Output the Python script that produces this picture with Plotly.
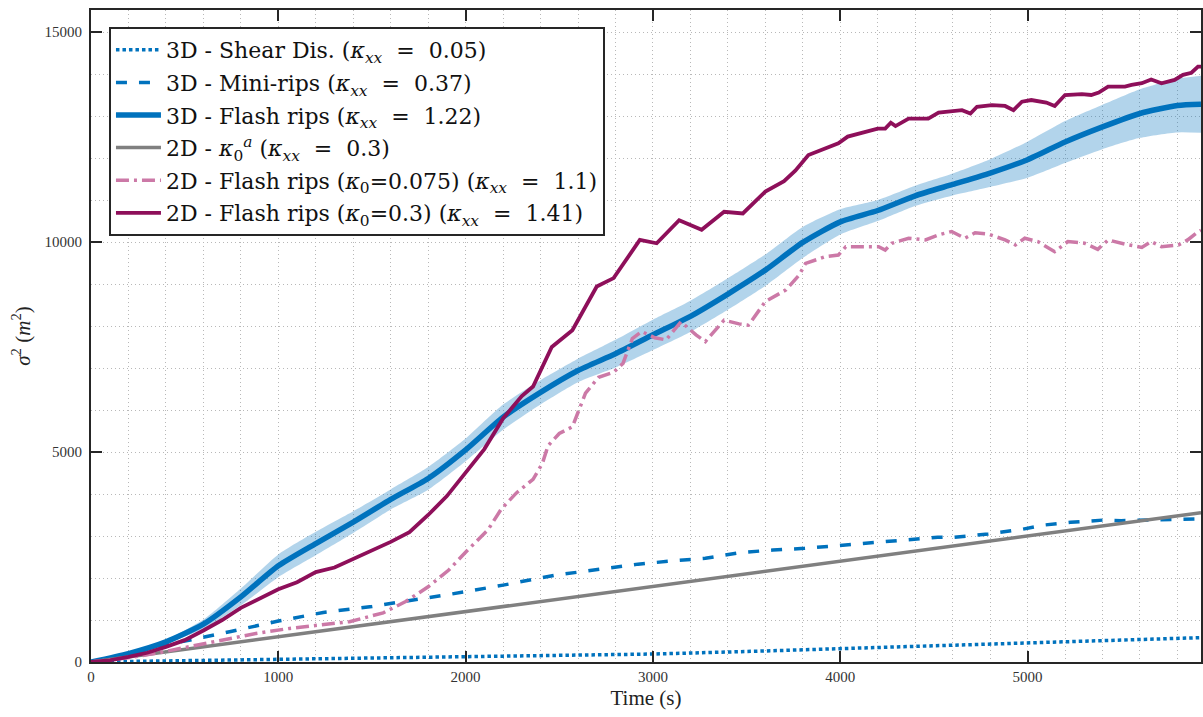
import plotly.graph_objects as go

# ---- data -------------------------------------------------------------
# 3D - Shear dispersion
t_shear = [0, 500, 1000, 1500, 2000, 2500, 3000, 3500, 4000, 4500, 5000, 5500, 5926]
v_shear = [0, 30, 65, 90, 115, 150, 190, 250, 315, 380, 445, 510, 580]

# 3D - Mini-rips
t_mini = [0, 200, 400, 530, 740, 1000, 1240, 1500, 1660, 1900, 2200, 2480, 2620,
          2920, 3100, 3280, 3460, 3640, 3810, 3990, 4170, 4350, 4520, 4610, 4790,
          4970, 5090, 5230, 5410, 5500, 5630, 5926]
v_mini = [0, 180, 420, 525, 720, 975, 1180, 1320, 1437, 1600, 1830, 2070, 2150,
          2330, 2405, 2468, 2600, 2667, 2706, 2770, 2840, 2905, 2969, 2969, 3048,
          3159, 3262, 3326, 3381, 3365, 3381, 3410]

# 3D - Flash rips: ensemble mean and spread
t_flash = [0, 200, 400, 600, 800, 1000, 1200, 1400, 1600, 1800, 2000, 2200, 2400,
           2600, 2800, 3000, 3200, 3400, 3600, 3800, 4000, 4200, 4400, 4600, 4800,
           5000, 5200, 5400, 5600, 5800, 5926]
v_flash = [0, 200, 480, 900, 1550, 2290, 2820, 3330, 3870, 4370, 5050, 5830, 6420,
           6940, 7340, 7790, 8230, 8760, 9330, 9990, 10480, 10750, 11100, 11370,
           11640, 11960, 12380, 12740, 13060, 13250, 13280]
s_flash = [0, 25, 50, 110, 200, 270, 280, 260, 240, 270, 270, 300, 290, 280, 330,
           360, 370, 375, 375, 370, 300, 250, 240, 260, 330, 430, 500, 530, 580,
           640, 680]

# 2D - kappa_0^a
t_aniso = [0, 1000, 2000, 3000, 4000, 5000, 5926]
v_aniso = [0, 600, 1200, 1800, 2400, 3000, 3556]

# 2D - Flash rips (kappa_0 = 0.075)
t_fr075 = [0, 200, 350, 530, 700, 880, 1060, 1240, 1380, 1560, 1680, 1800, 1910,
           2010, 2120, 2190, 2270, 2360, 2410, 2440, 2500, 2570, 2640, 2710, 2790,
           2840, 2890, 2940, 3010, 3070, 3150, 3230, 3280, 3380, 3460, 3510, 3600,
           3710, 3780, 3815, 3920, 3990, 4030, 4135, 4205, 4240, 4275, 4365, 4455,
           4525, 4595, 4665, 4720, 4790, 4880, 4935, 4985, 5055, 5145, 5215, 5305,
           5375, 5430, 5520, 5610, 5660, 5715, 5805, 5855, 5900, 5926]
v_fr075 = [0, 100, 210, 365, 520, 680, 800, 880, 960, 1170, 1440, 1790, 2190,
           2660, 3150, 3640, 4020, 4350, 4730, 5150, 5440, 5600, 6400, 6780, 6900,
           7110, 7700, 7870, 7720, 7670, 8100, 7790, 7630, 8140, 8050, 8020, 8580,
           8860, 9210, 9490, 9650, 9690, 9890, 9890, 9890, 9810, 9970, 10090, 10050,
           10170, 10250, 10090, 10220, 10190, 10050, 9930, 10090, 10010, 9770, 10010,
           9970, 9825, 10050, 9950, 9870, 10010, 9890, 9930, 10050, 10210, 10280]

# 2D - Flash rips (kappa_0 = 0.3)
t_fr03 = [0, 100, 200, 300, 400, 500, 600, 700, 800, 900, 1000, 1100, 1200, 1300,
          1400, 1500, 1600, 1700, 1800, 1900, 2000, 2100, 2200, 2300, 2360, 2460,
          2570, 2700, 2790, 2930, 3020, 3140, 3260, 3380, 3480, 3600, 3700, 3760,
          3830, 3890, 3990, 4040, 4200, 4240, 4270, 4295, 4365, 4470, 4525, 4650,
          4695, 4730, 4810, 4880, 4925, 4970, 5020, 5100, 5145, 5200, 5290, 5340,
          5380, 5430, 5520, 5555, 5610, 5660, 5715, 5785, 5830, 5875, 5910, 5926]
v_fr03 = [0, 40, 120, 220, 360, 520, 750, 1000, 1290, 1520, 1730, 1900, 2140, 2250,
          2450, 2660, 2860, 3090, 3500, 3950, 4520, 5070, 5800, 6330, 6560, 7500,
          7900, 8940, 9140, 10050, 9970, 10520, 10290, 10720, 10680, 11200, 11450,
          11700, 12070, 12180, 12350, 12510, 12700, 12700, 12840, 12760, 12940,
          12940, 13080, 13140, 13060, 13220, 13260, 13240, 13140, 13340, 13380,
          13320, 13240, 13500, 13520, 13500, 13560, 13700, 13700, 13740, 13780,
          13870, 13780, 13860, 13980, 14030, 14175, 14175]

EQ = "&nbsp; = &nbsp;"
labels = [
    f"3D - Shear Dis. (<i>κ<sub>xx</sub></i>{EQ}0.05)",
    f"3D - Mini-rips (<i>κ<sub>xx</sub></i>{EQ}0.37)",
    f"3D - Flash rips (<i>κ<sub>xx</sub></i>{EQ}1.22)",
    f"2D - <i>κ</i><sub>0</sub><sup><i>a</i></sup> (<i>κ<sub>xx</sub></i>{EQ}0.3)",
    f"2D - Flash rips (<i>κ</i><sub>0</sub>=0.075) (<i>κ<sub>xx</sub></i>{EQ}1.1)",
    f"2D - Flash rips (<i>κ</i><sub>0</sub>=0.3) (<i>κ<sub>xx</sub></i>{EQ}1.41)",
]

BLUE = "#0072BD"
GRAY = "#808080"
PINK = "#CC79A7"
PLUM = "#8E0F5A"
INK = "#262626"
SERIF = "Liberation Serif, DejaVu Serif, serif"
WIDE_SERIF = "DejaVu Serif, serif"

x_max = 5926
y_max = 15524

fig = go.Figure()

fig.add_trace(go.Scatter(
    x=t_shear, y=v_shear, mode="lines", name=labels[0], legendgroup="g0",
    line=dict(color=BLUE, width=3.5, dash="3.5px,3px")))
fig.add_trace(go.Scatter(
    x=t_mini, y=v_mini, mode="lines", name=labels[1], legendgroup="g1",
    line=dict(color=BLUE, width=3.5, dash="11px,12px")))

# spread band around the 3D flash-rip mean
lo = [m - s for m, s in zip(v_flash, s_flash)]
hi = [m + s for m, s in zip(v_flash, s_flash)]
fig.add_trace(go.Scatter(
    x=t_flash, y=lo, mode="lines", line=dict(width=0, color=BLUE, shape="spline", smoothing=0.6),
    showlegend=False, hoverinfo="skip", legendgroup="g2"))
fig.add_trace(go.Scatter(
    x=t_flash, y=hi, mode="lines", line=dict(width=0, color=BLUE, shape="spline", smoothing=0.6),
    fill="tonexty", fillcolor="rgba(0,114,189,0.30)",
    showlegend=False, hoverinfo="skip", legendgroup="g2"))
fig.add_trace(go.Scatter(
    x=t_flash, y=v_flash, mode="lines", name=labels[2], legendgroup="g2",
    line=dict(color=BLUE, width=5.5, shape="spline", smoothing=0.6)))

fig.add_trace(go.Scatter(
    x=t_aniso, y=v_aniso, mode="lines", name=labels[3], legendgroup="g3",
    line=dict(color=GRAY, width=3.5)))
fig.add_trace(go.Scatter(
    x=t_fr075, y=v_fr075, mode="lines", name=labels[4], legendgroup="g4",
    line=dict(color=PINK, width=3.5, dash="13px,5px,3px,5px")))
fig.add_trace(go.Scatter(
    x=t_fr03, y=v_fr03, mode="lines", name=labels[5], legendgroup="g5",
    line=dict(color=PLUM, width=3.8)))

grid_dash = "1px,3px"
GRID = "#b8b8b8"
axis_common = dict(
    showline=True, linecolor=INK, linewidth=2, mirror="ticks",
    ticks="inside", ticklen=11, tickwidth=2, tickcolor=INK,
    showgrid=True, gridcolor=GRID, gridwidth=1, griddash=grid_dash,
    zeroline=False,
    tickfont=dict(family=SERIF, size=15, color="#333333"),
)

fig.update_layout(
    width=1203, height=717,
    margin=dict(l=91, r=0, t=10, b=55),
    paper_bgcolor="white", plot_bgcolor="white",
    showlegend=True,
    legend=dict(
        x=(109 - 91) / 1112, y=1 - (27 - 10) / 652,
        xanchor="left", yanchor="top",
        bgcolor="white", bordercolor=INK, borderwidth=2,
        font=dict(family=WIDE_SERIF, size=22, color="#111111"),
        tracegroupgap=1, traceorder="grouped", itemwidth=45,
    ),
    xaxis=dict(
        range=[0, x_max], tickmode="array",
        tickvals=[0, 1000, 2000, 3000, 4000, 5000],
        ticktext=["0", "1000", "2000", "3000", "4000", "5000"],
        minor=dict(dtick=200, tick0=0, showgrid=True, gridcolor=GRID,
                   griddash=grid_dash, gridwidth=1, ticks=""),
        title=dict(text="Time (s)", font=dict(family=SERIF, size=21, color="#222222"),
                   standoff=6),
        **axis_common,
    ),
    yaxis=dict(
        range=[0, y_max], tickmode="array",
        tickvals=[0, 5000, 10000, 15000],
        ticktext=["0", "5000", "10000", "15000"],
        minor=dict(dtick=1000, tick0=0, showgrid=True, gridcolor=GRID,
                   griddash=grid_dash, gridwidth=1, ticks=""),
        ticklabelstandoff=4,
        title=dict(text="<i>σ</i><sup>2</sup> (<i>m</i><sup>2</sup>)",
                   font=dict(family=SERIF, size=21, color="#222222"), standoff=8),
        **axis_common,
    ),
)

fig.write_html("out.html")
